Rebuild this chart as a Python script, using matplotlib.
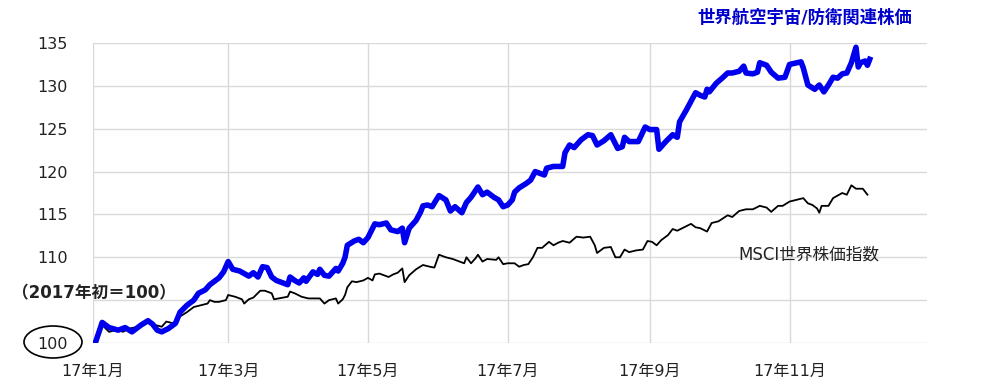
import pandas as pd
import matplotlib
matplotlib.use("Agg")
import matplotlib.pyplot as plt
import matplotlib.dates as mdates
from matplotlib.patches import Ellipse

# 数字はDejaVu、漢字はNotoで表示
plt.rcParams['font.family'] = ['DejaVu Sans', 'Noto Sans CJK JP']

# 世界航空宇宙/防衛関連株価 (2017年初=100)
aero_dates = [
    "2017-01-02", "2017-01-05", "2017-01-08", "2017-01-12", "2017-01-15", "2017-01-18",
    "2017-01-20", "2017-01-22", "2017-01-25", "2017-01-27", "2017-01-29", "2017-01-31",
    "2017-02-03", "2017-02-06", "2017-02-08", "2017-02-11", "2017-02-14", "2017-02-16",
    "2017-02-19", "2017-02-21", "2017-02-25", "2017-02-27", "2017-03-01", "2017-03-03",
    "2017-03-06", "2017-03-08", "2017-03-10", "2017-03-12", "2017-03-14", "2017-03-16",
    "2017-03-18", "2017-03-20", "2017-03-22", "2017-03-25", "2017-03-27", "2017-03-28",
    "2017-03-30", "2017-04-01", "2017-04-03", "2017-04-04", "2017-04-07", "2017-04-09",
    "2017-04-10", "2017-04-12", "2017-04-14", "2017-04-17", "2017-04-18", "2017-04-20",
    "2017-04-21", "2017-04-22", "2017-04-25", "2017-04-27", "2017-04-29", "2017-05-01",
    "2017-05-04", "2017-05-06", "2017-05-09", "2017-05-11", "2017-05-14", "2017-05-16",
    "2017-05-17", "2017-05-19", "2017-05-22", "2017-05-24", "2017-05-25", "2017-05-27",
    "2017-05-29", "2017-06-01", "2017-06-04", "2017-06-06", "2017-06-08", "2017-06-11",
    "2017-06-13", "2017-06-15", "2017-06-18", "2017-06-20", "2017-06-22", "2017-06-25",
    "2017-06-27", "2017-06-29", "2017-07-01", "2017-07-03", "2017-07-04", "2017-07-06",
    "2017-07-09", "2017-07-11", "2017-07-13", "2017-07-15", "2017-07-17", "2017-07-18",
    "2017-07-21", "2017-07-25", "2017-07-26", "2017-07-28", "2017-07-30", "2017-08-02",
    "2017-08-05", "2017-08-07", "2017-08-09", "2017-08-12", "2017-08-15", "2017-08-18",
    "2017-08-20", "2017-08-21", "2017-08-23", "2017-08-27", "2017-08-30", "2017-09-01",
    "2017-09-04", "2017-09-05", "2017-09-08", "2017-09-11", "2017-09-13", "2017-09-14",
    "2017-09-17", "2017-09-20", "2017-09-21", "2017-09-23", "2017-09-25", "2017-09-26",
    "2017-09-27", "2017-09-30", "2017-10-03", "2017-10-05", "2017-10-07", "2017-10-10",
    "2017-10-12", "2017-10-13", "2017-10-16", "2017-10-18", "2017-10-19", "2017-10-22",
    "2017-10-24", "2017-10-27", "2017-10-30", "2017-11-01", "2017-11-06", "2017-11-07",
    "2017-11-09", "2017-11-12", "2017-11-14", "2017-11-16", "2017-11-18", "2017-11-20",
    "2017-11-22", "2017-11-24", "2017-11-26", "2017-11-28", "2017-11-30", "2017-12-01",
    "2017-12-02", "2017-12-04", "2017-12-05", "2017-12-06",
]
aero_values = [
    100.0, 102.4, 101.8, 101.5, 101.8, 101.3,
    101.7, 102.1, 102.6, 102.2, 101.5, 101.3,
    101.7, 102.3, 103.6, 104.4, 105.0, 105.8,
    106.2, 106.8, 107.6, 108.3, 109.5, 108.6,
    108.4, 108.1, 107.8, 108.2, 107.7, 108.9,
    108.8, 107.7, 107.3, 107.0, 106.8, 107.7,
    107.3, 107.0, 107.6, 107.2, 108.3, 108.0,
    108.6, 107.9, 107.8, 108.7, 108.4, 109.3,
    110.0, 111.4, 111.9, 112.1, 111.7, 112.3,
    113.9, 113.8, 114.0, 113.2, 113.0, 113.4,
    111.7, 113.4, 114.3, 115.3, 116.0, 116.1,
    115.9, 117.2, 116.7, 115.4, 115.9, 115.2,
    116.4, 117.0, 118.2, 117.3, 117.6, 117.0,
    116.7, 115.9, 116.1, 116.7, 117.6, 118.1,
    118.6, 119.0, 120.0, 119.8, 119.6, 120.4,
    120.6, 120.6, 122.2, 123.1, 122.8, 123.7,
    124.3, 124.2, 123.1, 123.6, 124.3, 122.7,
    122.9, 124.0, 123.5, 123.5, 125.2, 124.9,
    124.9, 122.6, 123.5, 124.3, 124.0, 125.8,
    127.2, 128.7, 129.2, 128.9, 128.7, 129.6,
    129.3, 130.3, 131.0, 131.5, 131.5, 131.7,
    132.3, 131.5, 131.4, 131.6, 132.7, 132.4,
    131.6, 130.9, 131.0, 132.5, 132.8, 132.1,
    130.1, 129.6, 130.1, 129.3, 130.1, 131.0,
    130.9, 131.4, 131.5, 132.7, 134.5, 132.2,
    132.7, 132.9, 132.4, 133.1,
]

# MSCI世界株価指数 (2017年初=100)
msci_dates = [
    "2017-01-02", "2017-01-05", "2017-01-08", "2017-01-12", "2017-01-14", "2017-01-17",
    "2017-01-21", "2017-01-25", "2017-01-28", "2017-01-31", "2017-02-02", "2017-02-05",
    "2017-02-08", "2017-02-11", "2017-02-14", "2017-02-17", "2017-02-20", "2017-02-21",
    "2017-02-23", "2017-02-25", "2017-02-28", "2017-03-01", "2017-03-04", "2017-03-07",
    "2017-03-08", "2017-03-10", "2017-03-12", "2017-03-15", "2017-03-17", "2017-03-20",
    "2017-03-21", "2017-03-23", "2017-03-27", "2017-03-28", "2017-03-30", "2017-04-02",
    "2017-04-05", "2017-04-10", "2017-04-12", "2017-04-14", "2017-04-17", "2017-04-18",
    "2017-04-20", "2017-04-21", "2017-04-22", "2017-04-24", "2017-04-26", "2017-04-29",
    "2017-05-01", "2017-05-03", "2017-05-04", "2017-05-06", "2017-05-08", "2017-05-10",
    "2017-05-12", "2017-05-14", "2017-05-16", "2017-05-17", "2017-05-19", "2017-05-22",
    "2017-05-25", "2017-05-28", "2017-05-30", "2017-06-01", "2017-06-04", "2017-06-07",
    "2017-06-09", "2017-06-12", "2017-06-13", "2017-06-15", "2017-06-17", "2017-06-18",
    "2017-06-20", "2017-06-22", "2017-06-26", "2017-06-27", "2017-06-29", "2017-07-01",
    "2017-07-04", "2017-07-06", "2017-07-08", "2017-07-10", "2017-07-12", "2017-07-14",
    "2017-07-16", "2017-07-19", "2017-07-21", "2017-07-23", "2017-07-25", "2017-07-28",
    "2017-07-31", "2017-08-03", "2017-08-06", "2017-08-08", "2017-08-09", "2017-08-12",
    "2017-08-15", "2017-08-17", "2017-08-19", "2017-08-21", "2017-08-23", "2017-08-26",
    "2017-08-29", "2017-08-31", "2017-09-02", "2017-09-04", "2017-09-06", "2017-09-09",
    "2017-09-11", "2017-09-13", "2017-09-16", "2017-09-19", "2017-09-21", "2017-09-23",
    "2017-09-26", "2017-09-28", "2017-10-01", "2017-10-05", "2017-10-07", "2017-10-10",
    "2017-10-13", "2017-10-16", "2017-10-19", "2017-10-22", "2017-10-24", "2017-10-27",
    "2017-10-29", "2017-11-01", "2017-11-04", "2017-11-07", "2017-11-09", "2017-11-11",
    "2017-11-13", "2017-11-14", "2017-11-15", "2017-11-18", "2017-11-20", "2017-11-24",
    "2017-11-26", "2017-11-28", "2017-11-30", "2017-12-03", "2017-12-05",
]
msci_values = [
    100.0, 102.1, 101.3, 101.6, 101.3, 101.7,
    101.9, 102.5, 102.1, 101.9, 102.5, 102.3,
    103.1, 103.6, 104.2, 104.4, 104.6, 105.0,
    104.8, 104.8, 105.0, 105.6, 105.4, 105.1,
    104.6, 105.1, 105.3, 106.1, 106.1, 105.8,
    105.1, 105.2, 105.4, 106.0, 105.8, 105.4,
    105.2, 105.2, 104.6, 105.0, 105.2, 104.6,
    105.1, 105.6, 106.5, 107.2, 107.1, 107.3,
    107.6, 107.3, 108.0, 108.1, 107.9, 107.7,
    108.0, 108.2, 108.7, 107.1, 107.9, 108.6,
    109.1, 108.9, 108.8, 110.3, 110.0, 109.8,
    109.6, 109.3, 110.0, 109.3, 109.9, 110.3,
    109.5, 109.8, 109.7, 110.0, 109.2, 109.3,
    109.3, 108.9, 109.1, 109.2, 110.0, 111.1,
    111.1, 111.8, 111.4, 111.7, 111.9, 111.7,
    112.4, 112.3, 112.4, 111.4, 110.5, 111.1,
    111.2, 110.0, 110.0, 110.9, 110.6, 110.8,
    110.9, 111.9, 111.8, 111.4, 112.0, 112.6,
    113.3, 113.1, 113.5, 113.9, 113.5, 113.4,
    113.0, 114.0, 114.2, 114.9, 114.7, 115.4,
    115.6, 115.6, 116.0, 115.8, 115.3, 116.0,
    116.0, 116.5, 116.7, 116.9, 116.3, 116.1,
    115.7, 115.2, 116.0, 116.0, 116.9, 117.5,
    117.3, 118.4, 118.0, 118.0, 117.3,
]

y_ticks = [100, 105, 110, 115, 120, 125, 130, 135]
y_labels = ["100", "", "110", "115", "120", "125", "130", "135"]
month_ticks = ["2017-01-01", "2017-03-01", "2017-05-01", "2017-07-01", "2017-09-01", "2017-11-01"]

aero = pd.Series(aero_values, index=pd.to_datetime(aero_dates))
msci = pd.Series(msci_values, index=pd.to_datetime(msci_dates))

fig = plt.figure(figsize=(9.84, 3.9), dpi=100)
ax = fig.add_axes([93 / 984, 1 - 343 / 390, 834 / 984, 300 / 390])

ax.plot(msci.index, msci.values, color='black', lw=1.3, zorder=3)
ax.plot(aero.index, aero.values, color='#0000ee', lw=4, solid_joinstyle='round', zorder=4)

ax.set_xlim(pd.Timestamp("2017-01-01"), pd.Timestamp("2017-12-31"))
ax.set_ylim(100, 135)
ax.set_yticks(y_ticks)
ax.set_yticklabels(y_labels)
ax.set_xticks(pd.to_datetime(month_ticks))
ax.xaxis.set_major_formatter(mdates.DateFormatter('%y年%-m月'))

ax.grid(True, color='#d9d9d9', lw=1)
ax.set_axisbelow(True)
for s in ax.spines.values():
    s.set_visible(False)
ax.tick_params(axis='both', length=0, labelsize=11.5, colors='#222222')
ax.tick_params(axis='y', pad=18)
ax.tick_params(axis='x', pad=15)

# ラベル
fig.text(912 / 984, 1 - 18 / 390, '世界航空宇宙/防衛関連株価', color='#0000cc',
         fontsize=12.5, fontweight='bold', ha='right', va='center')
fig.text(738 / 984, 1 - 255 / 390, 'MSCI世界株価指数', color='#222222',
         fontsize=12, ha='left', va='center')
fig.text(12 / 984, 1 - 293 / 390, '（2017年初＝100）', color='#222222',
         fontsize=12, fontweight='bold', ha='left', va='center')

# 100を丸で囲む
fig.add_artist(Ellipse((53 / 984, 1 - 342 / 390), 58 / 984, 32 / 390,
                       transform=fig.transFigure, fill=False, ec='black', lw=1.2))

fig.savefig('out.png', dpi=100)
